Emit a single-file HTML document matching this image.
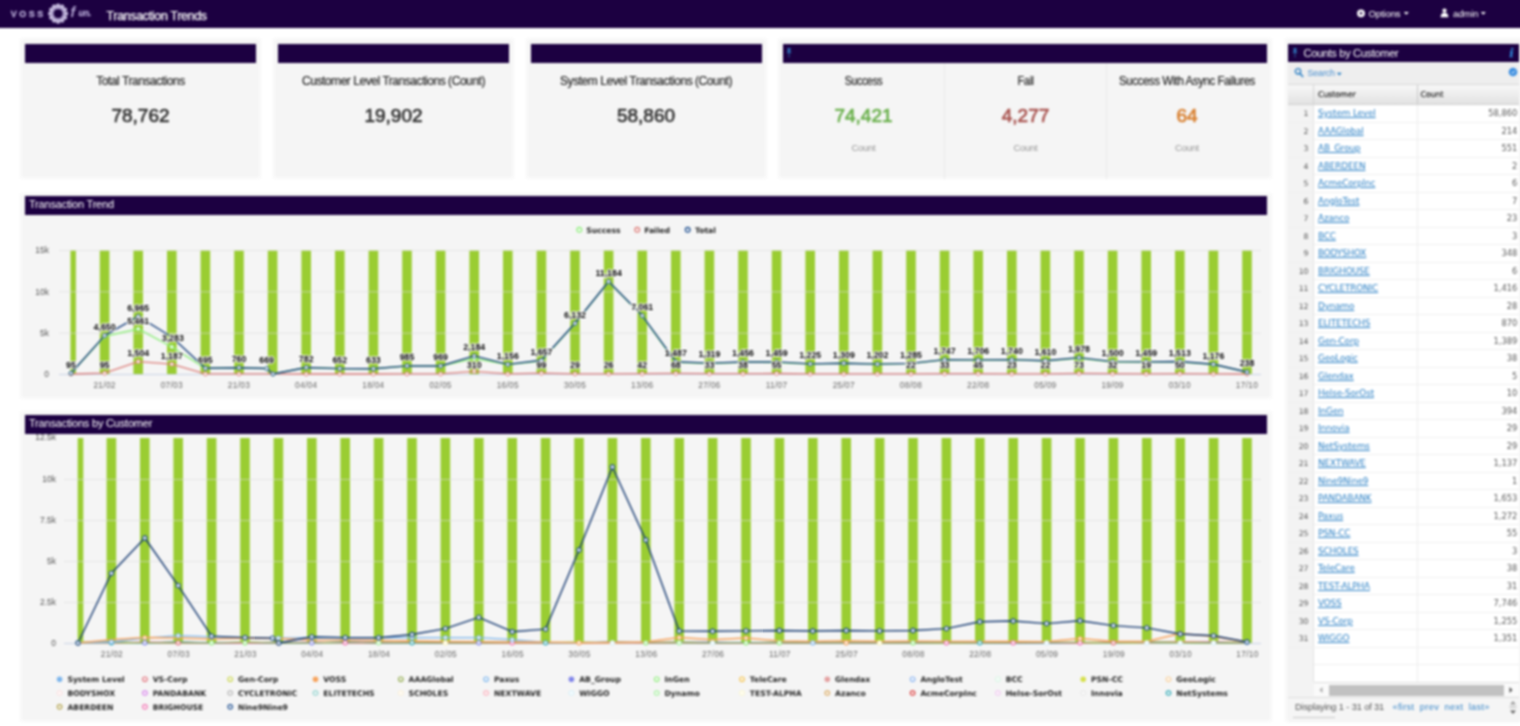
<!DOCTYPE html>
<html lang="en"><head><meta charset="utf-8"><title>Transaction Trends</title>
<style>
*{box-sizing:border-box;margin:0;padding:0}
html,body{width:1520px;height:726px;overflow:hidden;background:#fff}
body{position:relative;font-family:"Liberation Sans",sans-serif;color:#333}
.nav{position:absolute;left:0;top:0;width:1520px;height:27.5px;background:#1c0041}
.nav:before{content:'';position:absolute;left:-12px;top:-12px;width:1544px;height:39.5px;background:#1c0041}
#w{position:absolute;left:0;top:0;width:1520px;height:726px;filter:blur(0.8px)}
.nav .t{position:absolute;color:#fff;white-space:nowrap}
.panel{position:absolute;background:#f5f5f5;border-radius:4px;box-shadow:inset 0 0 0 2px #fafafa,0 0 1.5px rgba(0,0,0,.07)}
.hd{position:absolute;background:#1c0041;color:#fff;font-size:11px;line-height:19px;white-space:nowrap}
.lbl{position:absolute;text-align:center;font-size:12px;letter-spacing:-0.45px;color:#262626;white-space:nowrap;-webkit-text-stroke:0.2px #262626}
.val{position:absolute;text-align:center;font-size:19px;color:#333;white-space:nowrap;-webkit-text-stroke:0.65px currentColor}
.cnt{position:absolute;text-align:center;font-size:9.5px;color:#969696;white-space:nowrap;letter-spacing:-0.3px}
svg{position:absolute;left:0;top:0}
svg text{font-family:"Liberation Sans",sans-serif}
svg text.dv{font-family:"DejaVu Sans","Liberation Sans",sans-serif}
</style></head>
<body>
<div id="w">
<div class="nav">
<svg width="100" height="27" viewBox="0 0 100 27">
<text x="10.800" y="17" font-size="9" font-weight="bold" fill="#b2a5d0" stroke="#b2a5d0" stroke-width="0.35" letter-spacing="2.5">VOSS</text>
<circle cx="66.0" cy="13.6" r="2.2" fill="#c8bde0"/><circle cx="64.9" cy="17.6" r="2.2" fill="#c8bde0"/><circle cx="62.1" cy="20.4" r="2.2" fill="#c8bde0"/><circle cx="58.1" cy="21.5" r="2.2" fill="#c8bde0"/><circle cx="54.2" cy="20.4" r="2.2" fill="#c8bde0"/><circle cx="51.3" cy="17.6" r="2.2" fill="#c8bde0"/><circle cx="50.2" cy="13.6" r="2.2" fill="#c8bde0"/><circle cx="51.3" cy="9.7" r="2.2" fill="#c8bde0"/><circle cx="54.1" cy="6.8" r="2.2" fill="#c8bde0"/><circle cx="58.1" cy="5.7" r="2.2" fill="#c8bde0"/><circle cx="62.1" cy="6.8" r="2.2" fill="#c8bde0"/><circle cx="64.9" cy="9.6" r="2.2" fill="#c8bde0"/><circle cx="63.5" cy="15.0" r="1.3" fill="#b5a7d4"/><circle cx="62.1" cy="17.6" r="1.3" fill="#b5a7d4"/><circle cx="59.5" cy="19.0" r="1.3" fill="#b5a7d4"/><circle cx="56.7" cy="19.0" r="1.3" fill="#b5a7d4"/><circle cx="54.1" cy="17.6" r="1.3" fill="#b5a7d4"/><circle cx="52.7" cy="15.0" r="1.3" fill="#b5a7d4"/><circle cx="52.7" cy="12.2" r="1.3" fill="#b5a7d4"/><circle cx="54.1" cy="9.6" r="1.3" fill="#b5a7d4"/><circle cx="56.7" cy="8.2" r="1.3" fill="#b5a7d4"/><circle cx="59.5" cy="8.2" r="1.3" fill="#b5a7d4"/><circle cx="62.1" cy="9.6" r="1.3" fill="#b5a7d4"/><circle cx="63.5" cy="12.2" r="1.3" fill="#b5a7d4"/>
<text x="70.500" y="16.800" font-size="14" font-style="italic" font-weight="bold" fill="#b3a5d3" font-family="Liberation Serif,serif">f</text>
<text x="78.500" y="16.200" font-size="8.8" font-style="italic" font-weight="bold" stroke="#b3a5d3" stroke-width="0.3" fill="#b3a5d3" font-family="Liberation Sans,sans-serif" letter-spacing="-0.2">un.</text>
</svg>
<div class="t" style="left:106.5px;top:9px;font-size:12.4px;line-height:14px;letter-spacing:-0.3px;-webkit-text-stroke:0.25px #fff">Transaction Trends</div>
<svg style="left:1355px;top:7px" width="12" height="12" viewBox="0 0 12 12"><circle cx="6" cy="6.3" r="3.9" fill="#fff"/><circle cx="6" cy="6.3" r="1.2" fill="#1c0041"/></svg>
<div class="t" style="left:1368.5px;top:8px;font-size:9.6px;line-height:11px;letter-spacing:-0.15px">Options</div>
<svg style="left:1403px;top:11px" width="7" height="5" viewBox="0 0 7 5"><path d="M0.8 1h5l-2.5 2.8z" fill="#fff"/></svg>
<svg style="left:1439px;top:7px" width="11" height="12" viewBox="0 0 11 12"><circle cx="5.5" cy="3.6" r="2.1" fill="#fff"/><path d="M1.6 10.3c0-3.2 1.6-4.6 3.9-4.6s3.9 1.4 3.9 4.6z" fill="#fff"/></svg>
<div class="t" style="left:1453px;top:8px;font-size:9.6px;line-height:11px;letter-spacing:-0.15px">admin</div>
<svg style="left:1480px;top:11px" width="7" height="5" viewBox="0 0 7 5"><path d="M0.8 1h5l-2.5 2.8z" fill="#fff"/></svg>
</div>
<div class="panel" style="left:20px;top:38px;width:241px;height:141px">
<div class="hd" style="left:5px;top:6px;width:231px;height:18.5px"></div>
<div class="lbl" style="left:0;width:241px;top:35.5px;line-height:14px">Total Transactions</div>
<div class="val" style="left:0;width:241px;top:66px;line-height:24px">78,762</div>
</div>
<div class="panel" style="left:273px;top:38px;width:241px;height:141px">
<div class="hd" style="left:5px;top:6px;width:231px;height:18.5px"></div>
<div class="lbl" style="left:0;width:241px;top:35.5px;line-height:14px">Customer Level Transactions (Count)</div>
<div class="val" style="left:0;width:241px;top:66px;line-height:24px">19,902</div>
</div>
<div class="panel" style="left:525.5px;top:38px;width:241px;height:141px">
<div class="hd" style="left:5px;top:6px;width:231px;height:18.5px"></div>
<div class="lbl" style="left:0;width:241px;top:35.5px;line-height:14px">System Level Transactions (Count)</div>
<div class="val" style="left:0;width:241px;top:66px;line-height:24px">58,860</div>
</div>
<div class="panel" style="left:778px;top:38px;width:494px;height:141px">
<div class="hd" style="left:5px;top:6px;width:484px;height:18.5px"></div>
<svg style="left:8px;top:9px" width="6" height="12" viewBox="0 0 6 12"><path d="M1.3 1h3.4l-.5 3.3 1.3 1.6H3.4V10L3 11l-.4-1V5.9H.5l1.300-1.600z" fill="#2f6fb5"/></svg>
<div style="position:absolute;left:165.5px;top:25px;width:1px;height:116px;background:#e8e8e8"></div>
<div style="position:absolute;left:328px;top:25px;width:1px;height:116px;background:#e8e8e8"></div>
<div class="lbl" style="left:5px;width:161px;top:36px;line-height:14px;transform:scaleX(0.89)">Success</div>
<div class="val" style="left:5px;width:161px;top:66px;line-height:24px;color:#6ab04c;-webkit-text-stroke:0.7px #6ab04c">74,421</div>
<div class="cnt" style="left:5px;width:161px;top:103.5px;line-height:11px">Count</div>
<div class="lbl" style="left:167px;width:161px;top:36px;line-height:14px;transform:scaleX(0.91)">Fail</div>
<div class="val" style="left:167px;width:161px;top:66px;line-height:24px;color:#a8524e;-webkit-text-stroke:0.7px #a8524e">4,277</div>
<div class="cnt" style="left:167px;width:161px;top:103.5px;line-height:11px">Count</div>
<div class="lbl" style="left:329px;width:160px;top:36px;line-height:14px;transform:scaleX(0.957)">Success With Async Failures</div>
<div class="val" style="left:329px;width:160px;top:66px;line-height:24px;color:#d98233;-webkit-text-stroke:0.7px #d98233">64</div>
<div class="cnt" style="left:329px;width:160px;top:103.5px;line-height:11px">Count</div>
</div>
<div class="panel" style="left:20px;top:192.500px;width:1252px;height:206px"></div>
<div class="hd" style="left:25px;top:196.4px;width:1242px;height:19px;padding-left:4px;letter-spacing:-0.2px;line-height:17px">Transaction Trend</div>
<div class="panel" style="left:20px;top:410.5px;width:1252px;height:311.5px"></div>
<div class="hd" style="left:25px;top:415px;width:1242px;height:19px;padding-left:4px;letter-spacing:-0.2px;line-height:17px">Transactions by Customer</div>
<svg width="1520" height="726" viewBox="0 0 1520 726" style="pointer-events:none">
<rect x="70.5" y="250.3" width="5.4" height="123.7" fill="#9acd32"/>
<rect x="99.8" y="250.3" width="9.6" height="123.7" fill="#9acd32"/>
<rect x="133.4" y="250.3" width="9.6" height="123.7" fill="#9acd32"/>
<rect x="167.0" y="250.3" width="9.6" height="123.7" fill="#9acd32"/>
<rect x="200.6" y="250.3" width="9.6" height="123.7" fill="#9acd32"/>
<rect x="234.2" y="250.3" width="9.6" height="123.7" fill="#9acd32"/>
<rect x="267.8" y="250.3" width="9.6" height="123.7" fill="#9acd32"/>
<rect x="301.4" y="250.3" width="9.6" height="123.7" fill="#9acd32"/>
<rect x="335.0" y="250.3" width="9.6" height="123.7" fill="#9acd32"/>
<rect x="368.6" y="250.3" width="9.6" height="123.7" fill="#9acd32"/>
<rect x="402.2" y="250.3" width="9.6" height="123.7" fill="#9acd32"/>
<rect x="435.8" y="250.3" width="9.6" height="123.7" fill="#9acd32"/>
<rect x="469.4" y="250.3" width="9.6" height="123.7" fill="#9acd32"/>
<rect x="503.0" y="250.3" width="9.6" height="123.7" fill="#9acd32"/>
<rect x="536.6" y="250.3" width="9.6" height="123.7" fill="#9acd32"/>
<rect x="570.2" y="250.3" width="9.6" height="123.7" fill="#9acd32"/>
<rect x="603.8" y="250.3" width="9.6" height="123.7" fill="#9acd32"/>
<rect x="637.4" y="250.3" width="9.6" height="123.7" fill="#9acd32"/>
<rect x="671.0" y="250.3" width="9.6" height="123.7" fill="#9acd32"/>
<rect x="704.6" y="250.3" width="9.6" height="123.7" fill="#9acd32"/>
<rect x="738.2" y="250.3" width="9.6" height="123.7" fill="#9acd32"/>
<rect x="771.8" y="250.3" width="9.6" height="123.7" fill="#9acd32"/>
<rect x="805.4" y="250.3" width="9.6" height="123.7" fill="#9acd32"/>
<rect x="839.0" y="250.3" width="9.6" height="123.7" fill="#9acd32"/>
<rect x="872.6" y="250.3" width="9.6" height="123.7" fill="#9acd32"/>
<rect x="906.2" y="250.3" width="9.6" height="123.7" fill="#9acd32"/>
<rect x="939.8" y="250.3" width="9.6" height="123.7" fill="#9acd32"/>
<rect x="973.4" y="250.3" width="9.6" height="123.7" fill="#9acd32"/>
<rect x="1007.0" y="250.3" width="9.6" height="123.7" fill="#9acd32"/>
<rect x="1040.6" y="250.3" width="9.6" height="123.7" fill="#9acd32"/>
<rect x="1074.2" y="250.3" width="9.6" height="123.7" fill="#9acd32"/>
<rect x="1107.8" y="250.3" width="9.6" height="123.7" fill="#9acd32"/>
<rect x="1141.4" y="250.3" width="9.6" height="123.7" fill="#9acd32"/>
<rect x="1175.0" y="250.3" width="9.6" height="123.7" fill="#9acd32"/>
<rect x="1208.6" y="250.3" width="9.6" height="123.7" fill="#9acd32"/>
<rect x="1242.2" y="250.3" width="9.6" height="123.7" fill="#9acd32"/>
<line x1="59" x2="1261" y1="374.5" y2="374.5" stroke="#c9d3e6" stroke-width="1"/>
<line x1="59" x2="1261" y1="333.2" y2="333.2" stroke="#dcdcdc" stroke-opacity="0.65" stroke-width="1"/>
<line x1="59" x2="1261" y1="291.8" y2="291.8" stroke="#dcdcdc" stroke-opacity="0.65" stroke-width="1"/>
<line x1="59" x2="1261" y1="250.5" y2="250.5" stroke="#dcdcdc" stroke-opacity="0.65" stroke-width="1"/>
<text x="49" y="377.2" text-anchor="end" font-size="8.5" fill="#555">0</text>
<text x="49" y="335.9" text-anchor="end" font-size="8.5" fill="#555">5k</text>
<text x="49" y="294.5" text-anchor="end" font-size="8.5" fill="#555">10k</text>
<text x="49" y="253.2" text-anchor="end" font-size="8.5" fill="#555">15k</text>
<text x="104.6" y="387.800" text-anchor="middle" font-size="8.3" fill="#666" letter-spacing="0.3">21/02</text>
<text x="171.8" y="387.800" text-anchor="middle" font-size="8.3" fill="#666" letter-spacing="0.3">07/03</text>
<text x="239.0" y="387.800" text-anchor="middle" font-size="8.3" fill="#666" letter-spacing="0.3">21/03</text>
<text x="306.2" y="387.800" text-anchor="middle" font-size="8.3" fill="#666" letter-spacing="0.3">04/04</text>
<text x="373.4" y="387.800" text-anchor="middle" font-size="8.3" fill="#666" letter-spacing="0.3">18/04</text>
<text x="440.6" y="387.800" text-anchor="middle" font-size="8.3" fill="#666" letter-spacing="0.3">02/05</text>
<text x="507.8" y="387.800" text-anchor="middle" font-size="8.3" fill="#666" letter-spacing="0.3">16/05</text>
<text x="575.0" y="387.800" text-anchor="middle" font-size="8.3" fill="#666" letter-spacing="0.3">30/05</text>
<text x="642.2" y="387.800" text-anchor="middle" font-size="8.3" fill="#666" letter-spacing="0.3">13/06</text>
<text x="709.4" y="387.800" text-anchor="middle" font-size="8.3" fill="#666" letter-spacing="0.3">27/06</text>
<text x="776.6" y="387.800" text-anchor="middle" font-size="8.3" fill="#666" letter-spacing="0.3">11/07</text>
<text x="843.8" y="387.800" text-anchor="middle" font-size="8.3" fill="#666" letter-spacing="0.3">25/07</text>
<text x="911.0" y="387.800" text-anchor="middle" font-size="8.3" fill="#666" letter-spacing="0.3">08/08</text>
<text x="978.2" y="387.800" text-anchor="middle" font-size="8.3" fill="#666" letter-spacing="0.3">22/08</text>
<text x="1045.4" y="387.800" text-anchor="middle" font-size="8.3" fill="#666" letter-spacing="0.3">05/09</text>
<text x="1112.6" y="387.800" text-anchor="middle" font-size="8.3" fill="#666" letter-spacing="0.3">19/09</text>
<text x="1179.8" y="387.800" text-anchor="middle" font-size="8.3" fill="#666" letter-spacing="0.3">03/10</text>
<text x="1247.0" y="387.800" text-anchor="middle" font-size="8.3" fill="#666" letter-spacing="0.3">17/10</text>
<polyline fill="none" stroke="#dc7e7a" stroke-width="1.3" stroke-linejoin="round" points="71.0,374.0 104.6,373.2 138.2,361.6 171.8,364.2 205.4,373.9 239.0,373.9 272.6,373.9 306.2,374.0 339.8,374.0 373.4,374.0 407.0,373.9 440.6,373.9 474.2,371.4 507.8,373.9 541.4,373.2 575.0,373.8 608.6,373.8 642.2,373.7 675.8,373.4 709.4,373.7 743.0,373.7 776.6,373.5 810.2,373.9 843.8,373.9 877.4,373.9 911.0,373.8 944.6,373.7 978.2,373.6 1011.8,373.8 1045.4,373.8 1079.0,373.4 1112.6,373.7 1146.2,373.8 1179.8,373.6 1213.4,373.9 1247.0,374.0"/>
<polyline fill="none" stroke="#90ed7d" stroke-width="1.5" stroke-linejoin="round" points="71.0,373.2 104.6,336.3 138.2,328.9 171.8,346.9 205.4,368.3 239.0,367.8 266.8,368.6 273.0,374.0 306.2,367.6 339.8,368.7 373.4,368.8 407.0,365.9 440.6,366.1 474.2,358.5 507.8,364.5 541.4,361.1 575.0,323.5 608.6,281.8 642.2,316.0 675.8,362.3 709.4,363.4 743.0,362.3 776.6,362.4 810.2,364.0 843.8,363.3 877.4,364.1 911.0,363.6 944.6,359.8 978.2,360.3 1011.8,359.8 1045.4,360.9 1079.0,358.3 1112.6,361.9 1146.2,362.1 1179.8,361.9 1213.4,364.4 1247.0,372.0"/>
<polyline fill="none" stroke="#163f7c" stroke-width="1.4" stroke-linejoin="round" points="71.0,373.2 104.6,335.6 138.2,316.4 171.8,337.0 205.4,368.3 239.0,367.7 266.8,368.5 273.0,374.0 306.2,367.5 339.8,368.6 373.4,368.8 407.0,365.9 440.6,366.0 474.2,355.9 507.8,364.4 541.4,360.3 575.0,323.3 608.6,281.5 642.2,315.6 675.8,361.7 709.4,363.1 743.0,362.0 776.6,361.9 810.2,363.9 843.8,363.2 877.4,364.1 911.0,363.4 944.6,359.6 978.2,359.9 1011.8,359.6 1045.4,360.7 1079.0,357.6 1112.6,361.6 1146.2,361.9 1179.8,361.5 1213.4,364.3 1247.0,372.0"/>
<circle cx="71.0" cy="374.0" r="1.9" fill="#fff" stroke="#dc7e7a" stroke-width="1.0"/>
<circle cx="104.6" cy="373.2" r="1.9" fill="#fff" stroke="#dc7e7a" stroke-width="1.0"/>
<circle cx="138.2" cy="361.6" r="1.9" fill="#fff" stroke="#dc7e7a" stroke-width="1.0"/>
<circle cx="171.8" cy="364.2" r="1.9" fill="#fff" stroke="#dc7e7a" stroke-width="1.0"/>
<circle cx="205.4" cy="373.9" r="1.9" fill="#fff" stroke="#dc7e7a" stroke-width="1.0"/>
<circle cx="239.0" cy="373.9" r="1.9" fill="#fff" stroke="#dc7e7a" stroke-width="1.0"/>
<circle cx="272.6" cy="373.9" r="1.9" fill="#fff" stroke="#dc7e7a" stroke-width="1.0"/>
<circle cx="306.2" cy="374.0" r="1.9" fill="#fff" stroke="#dc7e7a" stroke-width="1.0"/>
<circle cx="339.8" cy="374.0" r="1.9" fill="#fff" stroke="#dc7e7a" stroke-width="1.0"/>
<circle cx="373.4" cy="374.0" r="1.9" fill="#fff" stroke="#dc7e7a" stroke-width="1.0"/>
<circle cx="407.0" cy="373.9" r="1.9" fill="#fff" stroke="#dc7e7a" stroke-width="1.0"/>
<circle cx="440.6" cy="373.9" r="1.9" fill="#fff" stroke="#dc7e7a" stroke-width="1.0"/>
<circle cx="474.2" cy="371.4" r="1.9" fill="#fff" stroke="#dc7e7a" stroke-width="1.0"/>
<circle cx="507.8" cy="373.9" r="1.9" fill="#fff" stroke="#dc7e7a" stroke-width="1.0"/>
<circle cx="541.4" cy="373.2" r="1.9" fill="#fff" stroke="#dc7e7a" stroke-width="1.0"/>
<circle cx="575.0" cy="373.8" r="1.9" fill="#fff" stroke="#dc7e7a" stroke-width="1.0"/>
<circle cx="608.6" cy="373.8" r="1.9" fill="#fff" stroke="#dc7e7a" stroke-width="1.0"/>
<circle cx="642.2" cy="373.7" r="1.9" fill="#fff" stroke="#dc7e7a" stroke-width="1.0"/>
<circle cx="675.8" cy="373.4" r="1.9" fill="#fff" stroke="#dc7e7a" stroke-width="1.0"/>
<circle cx="709.4" cy="373.7" r="1.9" fill="#fff" stroke="#dc7e7a" stroke-width="1.0"/>
<circle cx="743.0" cy="373.7" r="1.9" fill="#fff" stroke="#dc7e7a" stroke-width="1.0"/>
<circle cx="776.6" cy="373.5" r="1.9" fill="#fff" stroke="#dc7e7a" stroke-width="1.0"/>
<circle cx="810.2" cy="373.9" r="1.9" fill="#fff" stroke="#dc7e7a" stroke-width="1.0"/>
<circle cx="843.8" cy="373.9" r="1.9" fill="#fff" stroke="#dc7e7a" stroke-width="1.0"/>
<circle cx="877.4" cy="373.9" r="1.9" fill="#fff" stroke="#dc7e7a" stroke-width="1.0"/>
<circle cx="911.0" cy="373.8" r="1.9" fill="#fff" stroke="#dc7e7a" stroke-width="1.0"/>
<circle cx="944.6" cy="373.7" r="1.9" fill="#fff" stroke="#dc7e7a" stroke-width="1.0"/>
<circle cx="978.2" cy="373.6" r="1.9" fill="#fff" stroke="#dc7e7a" stroke-width="1.0"/>
<circle cx="1011.8" cy="373.8" r="1.9" fill="#fff" stroke="#dc7e7a" stroke-width="1.0"/>
<circle cx="1045.4" cy="373.8" r="1.9" fill="#fff" stroke="#dc7e7a" stroke-width="1.0"/>
<circle cx="1079.0" cy="373.4" r="1.9" fill="#fff" stroke="#dc7e7a" stroke-width="1.0"/>
<circle cx="1112.6" cy="373.7" r="1.9" fill="#fff" stroke="#dc7e7a" stroke-width="1.0"/>
<circle cx="1146.2" cy="373.8" r="1.9" fill="#fff" stroke="#dc7e7a" stroke-width="1.0"/>
<circle cx="1179.8" cy="373.6" r="1.9" fill="#fff" stroke="#dc7e7a" stroke-width="1.0"/>
<circle cx="1213.4" cy="373.9" r="1.9" fill="#fff" stroke="#dc7e7a" stroke-width="1.0"/>
<circle cx="1247.0" cy="374.0" r="1.9" fill="#fff" stroke="#dc7e7a" stroke-width="1.0"/>
<circle cx="71.0" cy="373.2" r="1.9" fill="#fff" stroke="#90ed7d" stroke-width="1.0"/>
<circle cx="104.6" cy="336.3" r="1.9" fill="#fff" stroke="#90ed7d" stroke-width="1.0"/>
<circle cx="138.2" cy="328.9" r="1.9" fill="#fff" stroke="#90ed7d" stroke-width="1.0"/>
<circle cx="171.8" cy="346.9" r="1.9" fill="#fff" stroke="#90ed7d" stroke-width="1.0"/>
<circle cx="205.4" cy="368.3" r="1.9" fill="#fff" stroke="#90ed7d" stroke-width="1.0"/>
<circle cx="239.0" cy="367.8" r="1.9" fill="#fff" stroke="#90ed7d" stroke-width="1.0"/>
<circle cx="266.8" cy="368.6" r="1.9" fill="#fff" stroke="#90ed7d" stroke-width="1.0"/>
<circle cx="273.0" cy="374.0" r="1.9" fill="#fff" stroke="#90ed7d" stroke-width="1.0"/>
<circle cx="306.2" cy="367.6" r="1.9" fill="#fff" stroke="#90ed7d" stroke-width="1.0"/>
<circle cx="339.8" cy="368.7" r="1.9" fill="#fff" stroke="#90ed7d" stroke-width="1.0"/>
<circle cx="373.4" cy="368.8" r="1.9" fill="#fff" stroke="#90ed7d" stroke-width="1.0"/>
<circle cx="407.0" cy="365.9" r="1.9" fill="#fff" stroke="#90ed7d" stroke-width="1.0"/>
<circle cx="440.6" cy="366.1" r="1.9" fill="#fff" stroke="#90ed7d" stroke-width="1.0"/>
<circle cx="474.2" cy="358.5" r="1.9" fill="#fff" stroke="#90ed7d" stroke-width="1.0"/>
<circle cx="507.8" cy="364.5" r="1.9" fill="#fff" stroke="#90ed7d" stroke-width="1.0"/>
<circle cx="541.4" cy="361.1" r="1.9" fill="#fff" stroke="#90ed7d" stroke-width="1.0"/>
<circle cx="575.0" cy="323.5" r="1.9" fill="#fff" stroke="#90ed7d" stroke-width="1.0"/>
<circle cx="608.6" cy="281.8" r="1.9" fill="#fff" stroke="#90ed7d" stroke-width="1.0"/>
<circle cx="642.2" cy="316.0" r="1.9" fill="#fff" stroke="#90ed7d" stroke-width="1.0"/>
<circle cx="675.8" cy="362.3" r="1.9" fill="#fff" stroke="#90ed7d" stroke-width="1.0"/>
<circle cx="709.4" cy="363.4" r="1.9" fill="#fff" stroke="#90ed7d" stroke-width="1.0"/>
<circle cx="743.0" cy="362.3" r="1.9" fill="#fff" stroke="#90ed7d" stroke-width="1.0"/>
<circle cx="776.6" cy="362.4" r="1.9" fill="#fff" stroke="#90ed7d" stroke-width="1.0"/>
<circle cx="810.2" cy="364.0" r="1.9" fill="#fff" stroke="#90ed7d" stroke-width="1.0"/>
<circle cx="843.8" cy="363.3" r="1.9" fill="#fff" stroke="#90ed7d" stroke-width="1.0"/>
<circle cx="877.4" cy="364.1" r="1.9" fill="#fff" stroke="#90ed7d" stroke-width="1.0"/>
<circle cx="911.0" cy="363.6" r="1.9" fill="#fff" stroke="#90ed7d" stroke-width="1.0"/>
<circle cx="944.6" cy="359.8" r="1.9" fill="#fff" stroke="#90ed7d" stroke-width="1.0"/>
<circle cx="978.2" cy="360.3" r="1.9" fill="#fff" stroke="#90ed7d" stroke-width="1.0"/>
<circle cx="1011.8" cy="359.8" r="1.9" fill="#fff" stroke="#90ed7d" stroke-width="1.0"/>
<circle cx="1045.4" cy="360.9" r="1.9" fill="#fff" stroke="#90ed7d" stroke-width="1.0"/>
<circle cx="1079.0" cy="358.3" r="1.9" fill="#fff" stroke="#90ed7d" stroke-width="1.0"/>
<circle cx="1112.6" cy="361.9" r="1.9" fill="#fff" stroke="#90ed7d" stroke-width="1.0"/>
<circle cx="1146.2" cy="362.1" r="1.9" fill="#fff" stroke="#90ed7d" stroke-width="1.0"/>
<circle cx="1179.8" cy="361.9" r="1.9" fill="#fff" stroke="#90ed7d" stroke-width="1.0"/>
<circle cx="1213.4" cy="364.4" r="1.9" fill="#fff" stroke="#90ed7d" stroke-width="1.0"/>
<circle cx="1247.0" cy="372.0" r="1.9" fill="#fff" stroke="#90ed7d" stroke-width="1.0"/>
<circle cx="71.0" cy="373.2" r="1.9" fill="#fff" stroke="#1f4f8f" stroke-width="1.0"/>
<circle cx="104.6" cy="335.6" r="1.9" fill="#fff" stroke="#1f4f8f" stroke-width="1.0"/>
<circle cx="138.2" cy="316.4" r="1.9" fill="#fff" stroke="#1f4f8f" stroke-width="1.0"/>
<circle cx="171.8" cy="337.0" r="1.9" fill="#fff" stroke="#1f4f8f" stroke-width="1.0"/>
<circle cx="205.4" cy="368.3" r="1.9" fill="#fff" stroke="#1f4f8f" stroke-width="1.0"/>
<circle cx="239.0" cy="367.7" r="1.9" fill="#fff" stroke="#1f4f8f" stroke-width="1.0"/>
<circle cx="266.8" cy="368.5" r="1.9" fill="#fff" stroke="#1f4f8f" stroke-width="1.0"/>
<circle cx="273.0" cy="374.0" r="1.9" fill="#fff" stroke="#1f4f8f" stroke-width="1.0"/>
<circle cx="306.2" cy="367.5" r="1.9" fill="#fff" stroke="#1f4f8f" stroke-width="1.0"/>
<circle cx="339.8" cy="368.6" r="1.9" fill="#fff" stroke="#1f4f8f" stroke-width="1.0"/>
<circle cx="373.4" cy="368.8" r="1.9" fill="#fff" stroke="#1f4f8f" stroke-width="1.0"/>
<circle cx="407.0" cy="365.9" r="1.9" fill="#fff" stroke="#1f4f8f" stroke-width="1.0"/>
<circle cx="440.6" cy="366.0" r="1.9" fill="#fff" stroke="#1f4f8f" stroke-width="1.0"/>
<circle cx="474.2" cy="355.9" r="1.9" fill="#fff" stroke="#1f4f8f" stroke-width="1.0"/>
<circle cx="507.8" cy="364.4" r="1.9" fill="#fff" stroke="#1f4f8f" stroke-width="1.0"/>
<circle cx="541.4" cy="360.3" r="1.9" fill="#fff" stroke="#1f4f8f" stroke-width="1.0"/>
<circle cx="575.0" cy="323.3" r="1.9" fill="#fff" stroke="#1f4f8f" stroke-width="1.0"/>
<circle cx="608.6" cy="281.5" r="1.9" fill="#fff" stroke="#1f4f8f" stroke-width="1.0"/>
<circle cx="642.2" cy="315.6" r="1.9" fill="#fff" stroke="#1f4f8f" stroke-width="1.0"/>
<circle cx="675.8" cy="361.7" r="1.9" fill="#fff" stroke="#1f4f8f" stroke-width="1.0"/>
<circle cx="709.4" cy="363.1" r="1.9" fill="#fff" stroke="#1f4f8f" stroke-width="1.0"/>
<circle cx="743.0" cy="362.0" r="1.9" fill="#fff" stroke="#1f4f8f" stroke-width="1.0"/>
<circle cx="776.6" cy="361.9" r="1.9" fill="#fff" stroke="#1f4f8f" stroke-width="1.0"/>
<circle cx="810.2" cy="363.9" r="1.9" fill="#fff" stroke="#1f4f8f" stroke-width="1.0"/>
<circle cx="843.8" cy="363.2" r="1.9" fill="#fff" stroke="#1f4f8f" stroke-width="1.0"/>
<circle cx="877.4" cy="364.1" r="1.9" fill="#fff" stroke="#1f4f8f" stroke-width="1.0"/>
<circle cx="911.0" cy="363.4" r="1.9" fill="#fff" stroke="#1f4f8f" stroke-width="1.0"/>
<circle cx="944.6" cy="359.6" r="1.9" fill="#fff" stroke="#1f4f8f" stroke-width="1.0"/>
<circle cx="978.2" cy="359.9" r="1.9" fill="#fff" stroke="#1f4f8f" stroke-width="1.0"/>
<circle cx="1011.8" cy="359.6" r="1.9" fill="#fff" stroke="#1f4f8f" stroke-width="1.0"/>
<circle cx="1045.4" cy="360.7" r="1.9" fill="#fff" stroke="#1f4f8f" stroke-width="1.0"/>
<circle cx="1079.0" cy="357.6" r="1.9" fill="#fff" stroke="#1f4f8f" stroke-width="1.0"/>
<circle cx="1112.6" cy="361.6" r="1.9" fill="#fff" stroke="#1f4f8f" stroke-width="1.0"/>
<circle cx="1146.2" cy="361.9" r="1.9" fill="#fff" stroke="#1f4f8f" stroke-width="1.0"/>
<circle cx="1179.8" cy="361.5" r="1.9" fill="#fff" stroke="#1f4f8f" stroke-width="1.0"/>
<circle cx="1213.4" cy="364.3" r="1.9" fill="#fff" stroke="#1f4f8f" stroke-width="1.0"/>
<circle cx="1247.0" cy="372.0" r="1.9" fill="#fff" stroke="#1f4f8f" stroke-width="1.0"/>
<text x="71.0" y="367.5" text-anchor="middle" font-size="8.8" font-weight="bold" fill="#000" stroke="#fff" stroke-width="2" stroke-linejoin="round" paint-order="stroke">95</text>
<text x="104.6" y="329.9" text-anchor="middle" font-size="8.8" font-weight="bold" fill="#000" stroke="#fff" stroke-width="2" stroke-linejoin="round" paint-order="stroke">4,650</text>
<text x="138.2" y="310.7" text-anchor="middle" font-size="8.8" font-weight="bold" fill="#000" stroke="#fff" stroke-width="2" stroke-linejoin="round" paint-order="stroke">6,965</text>
<text x="205.4" y="362.6" text-anchor="middle" font-size="8.8" font-weight="bold" fill="#000" stroke="#fff" stroke-width="2" stroke-linejoin="round" paint-order="stroke">695</text>
<text x="239.0" y="362.0" text-anchor="middle" font-size="8.8" font-weight="bold" fill="#000" stroke="#fff" stroke-width="2" stroke-linejoin="round" paint-order="stroke">760</text>
<text x="266.6" y="362.8" text-anchor="middle" font-size="8.8" font-weight="bold" fill="#000" stroke="#fff" stroke-width="2" stroke-linejoin="round" paint-order="stroke">669</text>
<text x="306.2" y="361.8" text-anchor="middle" font-size="8.8" font-weight="bold" fill="#000" stroke="#fff" stroke-width="2" stroke-linejoin="round" paint-order="stroke">782</text>
<text x="339.8" y="362.9" text-anchor="middle" font-size="8.8" font-weight="bold" fill="#000" stroke="#fff" stroke-width="2" stroke-linejoin="round" paint-order="stroke">652</text>
<text x="373.4" y="363.1" text-anchor="middle" font-size="8.8" font-weight="bold" fill="#000" stroke="#fff" stroke-width="2" stroke-linejoin="round" paint-order="stroke">633</text>
<text x="407.0" y="360.2" text-anchor="middle" font-size="8.8" font-weight="bold" fill="#000" stroke="#fff" stroke-width="2" stroke-linejoin="round" paint-order="stroke">985</text>
<text x="440.6" y="360.3" text-anchor="middle" font-size="8.8" font-weight="bold" fill="#000" stroke="#fff" stroke-width="2" stroke-linejoin="round" paint-order="stroke">969</text>
<text x="474.2" y="350.2" text-anchor="middle" font-size="8.8" font-weight="bold" fill="#000" stroke="#fff" stroke-width="2" stroke-linejoin="round" paint-order="stroke">2,184</text>
<text x="507.8" y="358.7" text-anchor="middle" font-size="8.8" font-weight="bold" fill="#000" stroke="#fff" stroke-width="2" stroke-linejoin="round" paint-order="stroke">1,156</text>
<text x="541.4" y="354.6" text-anchor="middle" font-size="8.8" font-weight="bold" fill="#000" stroke="#fff" stroke-width="2" stroke-linejoin="round" paint-order="stroke">1,657</text>
<text x="575.0" y="317.6" text-anchor="middle" font-size="8.8" font-weight="bold" fill="#000" stroke="#fff" stroke-width="2" stroke-linejoin="round" paint-order="stroke">6,132</text>
<text x="608.6" y="275.8" text-anchor="middle" font-size="8.8" font-weight="bold" fill="#000" stroke="#fff" stroke-width="2" stroke-linejoin="round" paint-order="stroke">11,184</text>
<text x="642.2" y="309.9" text-anchor="middle" font-size="8.8" font-weight="bold" fill="#000" stroke="#fff" stroke-width="2" stroke-linejoin="round" paint-order="stroke">7,061</text>
<text x="675.8" y="356.0" text-anchor="middle" font-size="8.8" font-weight="bold" fill="#000" stroke="#fff" stroke-width="2" stroke-linejoin="round" paint-order="stroke">1,487</text>
<text x="709.4" y="357.4" text-anchor="middle" font-size="8.8" font-weight="bold" fill="#000" stroke="#fff" stroke-width="2" stroke-linejoin="round" paint-order="stroke">1,319</text>
<text x="743.0" y="356.3" text-anchor="middle" font-size="8.8" font-weight="bold" fill="#000" stroke="#fff" stroke-width="2" stroke-linejoin="round" paint-order="stroke">1,456</text>
<text x="776.6" y="356.2" text-anchor="middle" font-size="8.8" font-weight="bold" fill="#000" stroke="#fff" stroke-width="2" stroke-linejoin="round" paint-order="stroke">1,459</text>
<text x="810.2" y="358.2" text-anchor="middle" font-size="8.8" font-weight="bold" fill="#000" stroke="#fff" stroke-width="2" stroke-linejoin="round" paint-order="stroke">1,225</text>
<text x="843.8" y="357.5" text-anchor="middle" font-size="8.8" font-weight="bold" fill="#000" stroke="#fff" stroke-width="2" stroke-linejoin="round" paint-order="stroke">1,309</text>
<text x="877.4" y="358.4" text-anchor="middle" font-size="8.8" font-weight="bold" fill="#000" stroke="#fff" stroke-width="2" stroke-linejoin="round" paint-order="stroke">1,202</text>
<text x="911.0" y="357.7" text-anchor="middle" font-size="8.8" font-weight="bold" fill="#000" stroke="#fff" stroke-width="2" stroke-linejoin="round" paint-order="stroke">1,285</text>
<text x="944.6" y="353.9" text-anchor="middle" font-size="8.8" font-weight="bold" fill="#000" stroke="#fff" stroke-width="2" stroke-linejoin="round" paint-order="stroke">1,747</text>
<text x="978.2" y="354.2" text-anchor="middle" font-size="8.8" font-weight="bold" fill="#000" stroke="#fff" stroke-width="2" stroke-linejoin="round" paint-order="stroke">1,706</text>
<text x="1011.8" y="353.9" text-anchor="middle" font-size="8.8" font-weight="bold" fill="#000" stroke="#fff" stroke-width="2" stroke-linejoin="round" paint-order="stroke">1,740</text>
<text x="1045.4" y="355.0" text-anchor="middle" font-size="8.8" font-weight="bold" fill="#000" stroke="#fff" stroke-width="2" stroke-linejoin="round" paint-order="stroke">1,610</text>
<text x="1079.0" y="351.9" text-anchor="middle" font-size="8.8" font-weight="bold" fill="#000" stroke="#fff" stroke-width="2" stroke-linejoin="round" paint-order="stroke">1,978</text>
<text x="1112.6" y="355.9" text-anchor="middle" font-size="8.8" font-weight="bold" fill="#000" stroke="#fff" stroke-width="2" stroke-linejoin="round" paint-order="stroke">1,500</text>
<text x="1146.2" y="356.2" text-anchor="middle" font-size="8.8" font-weight="bold" fill="#000" stroke="#fff" stroke-width="2" stroke-linejoin="round" paint-order="stroke">1,459</text>
<text x="1179.8" y="355.8" text-anchor="middle" font-size="8.8" font-weight="bold" fill="#000" stroke="#fff" stroke-width="2" stroke-linejoin="round" paint-order="stroke">1,513</text>
<text x="1213.4" y="358.6" text-anchor="middle" font-size="8.8" font-weight="bold" fill="#000" stroke="#fff" stroke-width="2" stroke-linejoin="round" paint-order="stroke">1,176</text>
<text x="1247.0" y="366.3" text-anchor="middle" font-size="8.8" font-weight="bold" fill="#000" stroke="#fff" stroke-width="2" stroke-linejoin="round" paint-order="stroke">238</text>
<text x="138.2" y="323.7" text-anchor="middle" font-size="8.8" font-weight="bold" fill="#000" stroke="#fff" stroke-width="2" stroke-linejoin="round" paint-order="stroke">5,461</text>
<text x="172.8" y="341.2" text-anchor="middle" font-size="8.8" font-weight="bold" fill="#000" stroke="#fff" stroke-width="2" stroke-linejoin="round" paint-order="stroke">3,283</text>
<text x="104.6" y="367.6" text-anchor="middle" font-size="8.8" font-weight="bold" fill="#000" stroke="#fff" stroke-width="2" stroke-linejoin="round" paint-order="stroke">95</text>
<text x="138.2" y="355.9" text-anchor="middle" font-size="8.8" font-weight="bold" fill="#000" stroke="#fff" stroke-width="2" stroke-linejoin="round" paint-order="stroke">1,504</text>
<text x="171.8" y="358.5" text-anchor="middle" font-size="8.8" font-weight="bold" fill="#000" stroke="#fff" stroke-width="2" stroke-linejoin="round" paint-order="stroke">1,187</text>
<text x="474.2" y="367.6" text-anchor="middle" font-size="8.8" font-weight="bold" fill="#000" stroke="#fff" stroke-width="2" stroke-linejoin="round" paint-order="stroke">310</text>
<text x="541.4" y="367.6" text-anchor="middle" font-size="8.8" font-weight="bold" fill="#000" stroke="#fff" stroke-width="2" stroke-linejoin="round" paint-order="stroke">99</text>
<text x="575.0" y="367.6" text-anchor="middle" font-size="8.8" font-weight="bold" fill="#000" stroke="#fff" stroke-width="2" stroke-linejoin="round" paint-order="stroke">29</text>
<text x="608.6" y="367.6" text-anchor="middle" font-size="8.8" font-weight="bold" fill="#000" stroke="#fff" stroke-width="2" stroke-linejoin="round" paint-order="stroke">26</text>
<text x="642.2" y="367.6" text-anchor="middle" font-size="8.8" font-weight="bold" fill="#000" stroke="#fff" stroke-width="2" stroke-linejoin="round" paint-order="stroke">42</text>
<text x="675.8" y="367.6" text-anchor="middle" font-size="8.8" font-weight="bold" fill="#000" stroke="#fff" stroke-width="2" stroke-linejoin="round" paint-order="stroke">68</text>
<text x="709.4" y="367.6" text-anchor="middle" font-size="8.8" font-weight="bold" fill="#000" stroke="#fff" stroke-width="2" stroke-linejoin="round" paint-order="stroke">33</text>
<text x="743.0" y="367.6" text-anchor="middle" font-size="8.8" font-weight="bold" fill="#000" stroke="#fff" stroke-width="2" stroke-linejoin="round" paint-order="stroke">38</text>
<text x="776.6" y="367.6" text-anchor="middle" font-size="8.8" font-weight="bold" fill="#000" stroke="#fff" stroke-width="2" stroke-linejoin="round" paint-order="stroke">55</text>
<text x="911.0" y="367.6" text-anchor="middle" font-size="8.8" font-weight="bold" fill="#000" stroke="#fff" stroke-width="2" stroke-linejoin="round" paint-order="stroke">22</text>
<text x="944.6" y="367.6" text-anchor="middle" font-size="8.8" font-weight="bold" fill="#000" stroke="#fff" stroke-width="2" stroke-linejoin="round" paint-order="stroke">33</text>
<text x="978.2" y="367.6" text-anchor="middle" font-size="8.8" font-weight="bold" fill="#000" stroke="#fff" stroke-width="2" stroke-linejoin="round" paint-order="stroke">45</text>
<text x="1011.8" y="367.6" text-anchor="middle" font-size="8.8" font-weight="bold" fill="#000" stroke="#fff" stroke-width="2" stroke-linejoin="round" paint-order="stroke">23</text>
<text x="1045.4" y="367.6" text-anchor="middle" font-size="8.8" font-weight="bold" fill="#000" stroke="#fff" stroke-width="2" stroke-linejoin="round" paint-order="stroke">22</text>
<text x="1079.0" y="367.6" text-anchor="middle" font-size="8.8" font-weight="bold" fill="#000" stroke="#fff" stroke-width="2" stroke-linejoin="round" paint-order="stroke">73</text>
<text x="1112.6" y="367.6" text-anchor="middle" font-size="8.8" font-weight="bold" fill="#000" stroke="#fff" stroke-width="2" stroke-linejoin="round" paint-order="stroke">32</text>
<text x="1146.2" y="367.6" text-anchor="middle" font-size="8.8" font-weight="bold" fill="#000" stroke="#fff" stroke-width="2" stroke-linejoin="round" paint-order="stroke">19</text>
<text x="1179.8" y="367.6" text-anchor="middle" font-size="8.8" font-weight="bold" fill="#000" stroke="#fff" stroke-width="2" stroke-linejoin="round" paint-order="stroke">50</text>
<circle cx="579.3" cy="229.8" r="2.3" fill="#fff" stroke="#90ed7d" stroke-width="1.3"/>
<text x="586.3" y="232.800" font-size="7.65" font-weight="bold" fill="#262626" class="dv">Success</text>
<circle cx="637.2" cy="229.8" r="2.3" fill="#fff" stroke="#dc7e7a" stroke-width="1.3"/>
<text x="644.2" y="232.800" font-size="7.65" font-weight="bold" fill="#262626" class="dv">Failed</text>
<circle cx="687.7" cy="229.8" r="2.3" fill="#fff" stroke="#1f4f8f" stroke-width="1.3"/>
<text x="695.0" y="232.800" font-size="7.65" font-weight="bold" fill="#262626" class="dv">Total</text>
</svg>
<svg width="1520" height="726" viewBox="0 0 1520 726" style="pointer-events:none">
<rect x="77.7" y="438.0" width="5.6" height="205.0" fill="#9acd32"/>
<rect x="106.6" y="438.0" width="9.6" height="205.0" fill="#9acd32"/>
<rect x="140.0" y="438.0" width="9.6" height="205.0" fill="#9acd32"/>
<rect x="173.4" y="438.0" width="9.6" height="205.0" fill="#9acd32"/>
<rect x="206.8" y="438.0" width="9.6" height="205.0" fill="#9acd32"/>
<rect x="240.2" y="438.0" width="9.6" height="205.0" fill="#9acd32"/>
<rect x="273.6" y="438.0" width="9.6" height="205.0" fill="#9acd32"/>
<rect x="307.0" y="438.0" width="9.6" height="205.0" fill="#9acd32"/>
<rect x="340.4" y="438.0" width="9.6" height="205.0" fill="#9acd32"/>
<rect x="373.8" y="438.0" width="9.6" height="205.0" fill="#9acd32"/>
<rect x="407.2" y="438.0" width="9.6" height="205.0" fill="#9acd32"/>
<rect x="440.6" y="438.0" width="9.6" height="205.0" fill="#9acd32"/>
<rect x="474.0" y="438.0" width="9.6" height="205.0" fill="#9acd32"/>
<rect x="507.4" y="438.0" width="9.6" height="205.0" fill="#9acd32"/>
<rect x="540.8" y="438.0" width="9.6" height="205.0" fill="#9acd32"/>
<rect x="574.2" y="438.0" width="9.6" height="205.0" fill="#9acd32"/>
<rect x="607.6" y="438.0" width="9.6" height="205.0" fill="#9acd32"/>
<rect x="641.0" y="438.0" width="9.6" height="205.0" fill="#9acd32"/>
<rect x="674.4" y="438.0" width="9.6" height="205.0" fill="#9acd32"/>
<rect x="707.8" y="438.0" width="9.6" height="205.0" fill="#9acd32"/>
<rect x="741.2" y="438.0" width="9.6" height="205.0" fill="#9acd32"/>
<rect x="774.6" y="438.0" width="9.6" height="205.0" fill="#9acd32"/>
<rect x="808.0" y="438.0" width="9.6" height="205.0" fill="#9acd32"/>
<rect x="841.4" y="438.0" width="9.6" height="205.0" fill="#9acd32"/>
<rect x="874.8" y="438.0" width="9.6" height="205.0" fill="#9acd32"/>
<rect x="908.2" y="438.0" width="9.6" height="205.0" fill="#9acd32"/>
<rect x="941.6" y="438.0" width="9.6" height="205.0" fill="#9acd32"/>
<rect x="975.0" y="438.0" width="9.6" height="205.0" fill="#9acd32"/>
<rect x="1008.4" y="438.0" width="9.6" height="205.0" fill="#9acd32"/>
<rect x="1041.8" y="438.0" width="9.6" height="205.0" fill="#9acd32"/>
<rect x="1075.2" y="438.0" width="9.6" height="205.0" fill="#9acd32"/>
<rect x="1108.6" y="438.0" width="9.6" height="205.0" fill="#9acd32"/>
<rect x="1142.0" y="438.0" width="9.6" height="205.0" fill="#9acd32"/>
<rect x="1175.4" y="438.0" width="9.6" height="205.0" fill="#9acd32"/>
<rect x="1208.8" y="438.0" width="9.6" height="205.0" fill="#9acd32"/>
<rect x="1242.2" y="438.0" width="9.6" height="205.0" fill="#9acd32"/>
<line x1="64" x2="1261" y1="643.5" y2="643.5" stroke="#c9d3e6" stroke-width="1"/>
<line x1="64" x2="1261" y1="602.5" y2="602.5" stroke="#dcdcdc" stroke-opacity="0.65" stroke-width="1"/>
<line x1="64" x2="1261" y1="561.5" y2="561.5" stroke="#dcdcdc" stroke-opacity="0.65" stroke-width="1"/>
<line x1="64" x2="1261" y1="520.5" y2="520.5" stroke="#dcdcdc" stroke-opacity="0.65" stroke-width="1"/>
<line x1="64" x2="1261" y1="479.5" y2="479.5" stroke="#dcdcdc" stroke-opacity="0.65" stroke-width="1"/>
<text x="56" y="646.2" text-anchor="end" font-size="8.5" fill="#555">0</text>
<text x="56" y="605.2" text-anchor="end" font-size="8.5" fill="#555">2.5k</text>
<text x="56" y="564.2" text-anchor="end" font-size="8.5" fill="#555">5k</text>
<text x="56" y="523.2" text-anchor="end" font-size="8.5" fill="#555">7.5k</text>
<text x="56" y="482.2" text-anchor="end" font-size="8.5" fill="#555">10k</text>
<text x="56" y="439.5" text-anchor="end" font-size="8.5" fill="#555">12.5k</text>
<text x="111.9" y="656.600" text-anchor="middle" font-size="8.3" fill="#666" letter-spacing="0.3">21/02</text>
<text x="178.7" y="656.600" text-anchor="middle" font-size="8.3" fill="#666" letter-spacing="0.3">07/03</text>
<text x="245.5" y="656.600" text-anchor="middle" font-size="8.3" fill="#666" letter-spacing="0.3">21/03</text>
<text x="312.3" y="656.600" text-anchor="middle" font-size="8.3" fill="#666" letter-spacing="0.3">04/04</text>
<text x="379.1" y="656.600" text-anchor="middle" font-size="8.3" fill="#666" letter-spacing="0.3">18/04</text>
<text x="445.9" y="656.600" text-anchor="middle" font-size="8.3" fill="#666" letter-spacing="0.3">02/05</text>
<text x="512.7" y="656.600" text-anchor="middle" font-size="8.3" fill="#666" letter-spacing="0.3">16/05</text>
<text x="579.5" y="656.600" text-anchor="middle" font-size="8.3" fill="#666" letter-spacing="0.3">30/05</text>
<text x="646.3" y="656.600" text-anchor="middle" font-size="8.3" fill="#666" letter-spacing="0.3">13/06</text>
<text x="713.1" y="656.600" text-anchor="middle" font-size="8.3" fill="#666" letter-spacing="0.3">27/06</text>
<text x="779.9" y="656.600" text-anchor="middle" font-size="8.3" fill="#666" letter-spacing="0.3">11/07</text>
<text x="846.7" y="656.600" text-anchor="middle" font-size="8.3" fill="#666" letter-spacing="0.3">25/07</text>
<text x="913.5" y="656.600" text-anchor="middle" font-size="8.3" fill="#666" letter-spacing="0.3">08/08</text>
<text x="980.3" y="656.600" text-anchor="middle" font-size="8.3" fill="#666" letter-spacing="0.3">22/08</text>
<text x="1047.1" y="656.600" text-anchor="middle" font-size="8.3" fill="#666" letter-spacing="0.3">05/09</text>
<text x="1113.9" y="656.600" text-anchor="middle" font-size="8.3" fill="#666" letter-spacing="0.3">19/09</text>
<text x="1180.7" y="656.600" text-anchor="middle" font-size="8.3" fill="#666" letter-spacing="0.3">03/10</text>
<text x="1247.5" y="656.600" text-anchor="middle" font-size="8.3" fill="#666" letter-spacing="0.3">17/10</text>
<polyline fill="none" stroke="#e0707a" stroke-width="1.0" stroke-linejoin="round" points="78.0,643.0 111.4,643.0 144.8,643.0 178.2,642.0 211.6,642.8 245.0,642.8 278.4,643.0 311.8,643.0 345.2,643.0 378.6,643.0 412.0,642.8 445.4,642.5 478.8,643.0 512.2,643.0 545.6,643.0 579.0,642.5 612.4,642.5 645.8,643.0 679.2,643.0 712.6,643.0 746.0,643.0 779.4,643.0 812.8,643.0 846.2,643.0 879.6,642.0 913.0,643.0 946.4,643.0 979.8,643.0 1013.2,643.0 1046.6,643.0 1080.0,643.0 1113.4,642.0 1146.8,642.0 1180.2,643.0 1213.6,643.0 1247.0,642.5"/>
<polyline fill="none" stroke="#c8d44a" stroke-width="1.0" stroke-linejoin="round" points="78.0,643.0 111.4,642.0 144.8,642.8 178.2,642.5 211.6,643.0 245.0,643.0 278.4,643.0 311.8,642.8 345.2,643.0 378.6,643.0 412.0,642.5 445.4,643.0 478.8,643.0 512.2,643.0 545.6,642.5 579.0,642.0 612.4,643.0 645.8,642.5 679.2,643.0 712.6,642.8 746.0,642.8 779.4,642.5 812.8,643.0 846.2,642.8 879.6,642.8 913.0,643.0 946.4,643.0 979.8,643.0 1013.2,643.0 1046.6,643.0 1080.0,643.0 1113.4,643.0 1146.8,642.8 1180.2,642.0 1213.6,643.0 1247.0,642.5"/>
<polyline fill="none" stroke="#8fa84a" stroke-width="1.0" stroke-linejoin="round" points="78.0,642.5 111.4,642.0 144.8,642.8 178.2,642.0 211.6,643.0 245.0,643.0 278.4,642.0 311.8,643.0 345.2,643.0 378.6,642.8 412.0,643.0 445.4,642.0 478.8,642.0 512.2,642.8 545.6,643.0 579.0,643.0 612.4,643.0 645.8,642.8 679.2,642.0 712.6,642.5 746.0,643.0 779.4,642.0 812.8,642.5 846.2,643.0 879.6,643.0 913.0,643.0 946.4,643.0 979.8,642.0 1013.2,643.0 1046.6,643.0 1080.0,642.5 1113.4,642.5 1146.8,643.0 1180.2,643.0 1213.6,643.0 1247.0,643.0"/>
<polyline fill="none" stroke="#8085e9" stroke-width="1.0" stroke-linejoin="round" points="78.0,643.0 111.4,642.8 144.8,643.0 178.2,643.0 211.6,643.0 245.0,642.0 278.4,643.0 311.8,643.0 345.2,642.0 378.6,642.0 412.0,643.0 445.4,643.0 478.8,643.0 512.2,643.0 545.6,643.0 579.0,643.0 612.4,642.0 645.8,642.8 679.2,642.5 712.6,642.0 746.0,643.0 779.4,643.0 812.8,642.5 846.2,643.0 879.6,642.8 913.0,643.0 946.4,643.0 979.8,643.0 1013.2,642.8 1046.6,642.5 1080.0,643.0 1113.4,643.0 1146.8,642.5 1180.2,643.0 1213.6,643.0 1247.0,643.0"/>
<polyline fill="none" stroke="#90ed7d" stroke-width="1.0" stroke-linejoin="round" points="78.0,642.8 111.4,643.0 144.8,643.0 178.2,643.0 211.6,643.0 245.0,642.5 278.4,643.0 311.8,642.8 345.2,643.0 378.6,642.8 412.0,643.0 445.4,643.0 478.8,643.0 512.2,643.0 545.6,643.0 579.0,642.0 612.4,643.0 645.8,642.5 679.2,642.0 712.6,643.0 746.0,642.5 779.4,643.0 812.8,642.5 846.2,642.8 879.6,642.5 913.0,643.0 946.4,643.0 979.8,643.0 1013.2,643.0 1046.6,642.5 1080.0,643.0 1113.4,642.8 1146.8,642.0 1180.2,643.0 1213.6,642.8 1247.0,643.0"/>
<polyline fill="none" stroke="#f2c14a" stroke-width="1.0" stroke-linejoin="round" points="78.0,643.0 111.4,642.8 144.8,642.8 178.2,642.8 211.6,643.0 245.0,643.0 278.4,642.8 311.8,642.8 345.2,643.0 378.6,642.0 412.0,642.8 445.4,643.0 478.8,642.8 512.2,643.0 545.6,643.0 579.0,643.0 612.4,643.0 645.8,643.0 679.2,643.0 712.6,642.5 746.0,643.0 779.4,643.0 812.8,642.8 846.2,643.0 879.6,643.0 913.0,643.0 946.4,643.0 979.8,643.0 1013.2,642.5 1046.6,643.0 1080.0,642.5 1113.4,642.8 1146.8,642.0 1180.2,642.0 1213.6,642.0 1247.0,642.0"/>
<polyline fill="none" stroke="#e4a0a0" stroke-width="1.0" stroke-linejoin="round" points="78.0,643.0 111.4,642.8 144.8,642.8 178.2,643.0 211.6,642.8 245.0,643.0 278.4,642.5 311.8,643.0 345.2,643.0 378.6,643.0 412.0,642.0 445.4,642.8 478.8,642.0 512.2,643.0 545.6,642.8 579.0,642.5 612.4,643.0 645.8,642.0 679.2,642.0 712.6,643.0 746.0,643.0 779.4,642.8 812.8,642.8 846.2,643.0 879.6,643.0 913.0,642.0 946.4,642.0 979.8,643.0 1013.2,643.0 1046.6,642.8 1080.0,642.5 1113.4,643.0 1146.8,643.0 1180.2,642.0 1213.6,643.0 1247.0,643.0"/>
<polyline fill="none" stroke="#d6e04a" stroke-width="1.0" stroke-linejoin="round" points="78.0,642.0 111.4,642.0 144.8,642.8 178.2,642.5 211.6,642.8 245.0,642.0 278.4,642.8 311.8,642.8 345.2,643.0 378.6,643.0 412.0,643.0 445.4,643.0 478.8,643.0 512.2,642.5 545.6,643.0 579.0,643.0 612.4,642.8 645.8,642.8 679.2,643.0 712.6,642.5 746.0,643.0 779.4,643.0 812.8,643.0 846.2,642.0 879.6,642.5 913.0,643.0 946.4,642.5 979.8,642.8 1013.2,642.5 1046.6,642.8 1080.0,643.0 1113.4,643.0 1146.8,643.0 1180.2,642.0 1213.6,642.5 1247.0,643.0"/>
<polyline fill="none" stroke="#d580e9" stroke-width="1.0" stroke-linejoin="round" points="78.0,642.8 111.4,642.5 144.8,643.0 178.2,642.5 211.6,643.0 245.0,643.0 278.4,643.0 311.8,643.0 345.2,642.5 378.6,643.0 412.0,643.0 445.4,643.0 478.8,643.0 512.2,643.0 545.6,642.5 579.0,642.8 612.4,642.8 645.8,643.0 679.2,643.0 712.6,642.8 746.0,643.0 779.4,642.8 812.8,642.8 846.2,643.0 879.6,643.0 913.0,643.0 946.4,642.5 979.8,643.0 1013.2,642.5 1046.6,642.8 1080.0,642.8 1113.4,642.0 1146.8,642.8 1180.2,643.0 1213.6,642.0 1247.0,643.0"/>
<polyline fill="none" stroke="#8fd0cc" stroke-width="1.0" stroke-linejoin="round" points="78.0,642.0 111.4,643.0 144.8,642.8 178.2,642.8 211.6,643.0 245.0,642.5 278.4,643.0 311.8,643.0 345.2,643.0 378.6,643.0 412.0,642.0 445.4,643.0 478.8,643.0 512.2,642.8 545.6,643.0 579.0,643.0 612.4,642.5 645.8,643.0 679.2,642.0 712.6,643.0 746.0,643.0 779.4,642.0 812.8,643.0 846.2,643.0 879.6,642.5 913.0,643.0 946.4,642.8 979.8,642.0 1013.2,642.5 1046.6,642.8 1080.0,642.5 1113.4,643.0 1146.8,642.5 1180.2,643.0 1213.6,642.8 1247.0,643.0"/>
<polyline fill="none" stroke="#a6f0a0" stroke-width="1.0" stroke-linejoin="round" points="78.0,643.0 111.4,643.0 144.8,643.0 178.2,642.0 211.6,643.0 245.0,642.0 278.4,643.0 311.8,642.5 345.2,643.0 378.6,642.5 412.0,642.8 445.4,642.5 478.8,643.0 512.2,642.5 545.6,642.8 579.0,642.5 612.4,642.5 645.8,642.8 679.2,642.8 712.6,643.0 746.0,643.0 779.4,642.5 812.8,643.0 846.2,642.0 879.6,643.0 913.0,643.0 946.4,642.8 979.8,643.0 1013.2,642.5 1046.6,643.0 1080.0,642.0 1113.4,642.5 1146.8,643.0 1180.2,643.0 1213.6,643.0 1247.0,643.0"/>
<polyline fill="none" stroke="#f070b0" stroke-width="1.0" stroke-linejoin="round" points="78.0,642.5 111.4,643.0 144.8,642.0 178.2,642.5 211.6,643.0 245.0,643.0 278.4,642.8 311.8,642.0 345.2,643.0 378.6,643.0 412.0,642.0 445.4,643.0 478.8,643.0 512.2,643.0 545.6,643.0 579.0,643.0 612.4,642.5 645.8,643.0 679.2,642.5 712.6,643.0 746.0,643.0 779.4,643.0 812.8,643.0 846.2,643.0 879.6,642.5 913.0,642.8 946.4,642.0 979.8,642.5 1013.2,643.0 1046.6,643.0 1080.0,643.0 1113.4,642.0 1146.8,642.8 1180.2,642.0 1213.6,642.0 1247.0,643.0"/>
<polyline fill="none" stroke="#2fa8b5" stroke-width="1.0" stroke-linejoin="round" points="78.0,642.5 111.4,642.0 144.8,643.0 178.2,642.0 211.6,642.8 245.0,642.5 278.4,643.0 311.8,642.8 345.2,642.0 378.6,643.0 412.0,643.0 445.4,643.0 478.8,643.0 512.2,642.0 545.6,643.0 579.0,642.5 612.4,642.0 645.8,642.5 679.2,642.8 712.6,642.8 746.0,642.5 779.4,642.8 812.8,643.0 846.2,643.0 879.6,642.8 913.0,642.8 946.4,642.5 979.8,643.0 1013.2,643.0 1046.6,643.0 1080.0,642.5 1113.4,642.8 1146.8,642.0 1180.2,642.5 1213.6,642.5 1247.0,643.0"/>
<polyline fill="none" stroke="#b0a04a" stroke-width="1.0" stroke-linejoin="round" points="78.0,642.8 111.4,642.8 144.8,642.5 178.2,643.0 211.6,643.0 245.0,642.5 278.4,643.0 311.8,642.8 345.2,642.0 378.6,643.0 412.0,642.5 445.4,643.0 478.8,643.0 512.2,643.0 545.6,642.8 579.0,643.0 612.4,642.0 645.8,642.8 679.2,642.5 712.6,643.0 746.0,643.0 779.4,643.0 812.8,643.0 846.2,643.0 879.6,643.0 913.0,643.0 946.4,643.0 979.8,642.8 1013.2,642.5 1046.6,642.0 1080.0,642.5 1113.4,642.5 1146.8,642.0 1180.2,642.5 1213.6,643.0 1247.0,643.0"/>
<polyline fill="none" stroke="#7cb5ec" stroke-width="1.3" stroke-linejoin="round" points="78.0,643.0 111.4,642.0 144.8,638.1 178.2,635.6 211.6,636.8 245.0,637.6 278.4,638.1 311.8,637.6 345.2,638.1 378.6,637.6 412.0,637.6 445.4,637.6 478.8,637.6 512.2,639.7 545.6,642.5 579.0,643.0"/>
<polyline fill="none" stroke="#f7a35c" stroke-width="1.5" stroke-linejoin="round" points="78.0,643.0 111.4,639.7 144.8,637.6 178.2,638.1 211.6,638.9 245.0,638.1 278.4,638.4 311.8,639.7 345.2,640.0 378.6,640.5 412.0,641.0 445.4,641.4 478.8,641.7 512.2,642.0 545.6,642.3 579.0,642.7 612.4,642.5 645.8,642.0 679.2,637.6 712.6,639.7 746.0,638.1 779.4,641.0 812.8,641.5 846.2,640.7 879.6,641.4 913.0,641.2 946.4,641.4 979.8,641.5 1013.2,641.4 1046.6,641.7 1080.0,638.6 1113.4,641.5 1146.8,641.4 1180.2,633.5 1213.6,636.4 1247.0,642.0"/>
<polyline fill="none" stroke="#12376f" stroke-width="1.4" stroke-linejoin="round" points="78.0,643.0 111.4,573.3 144.8,538.0 178.2,585.6 211.6,636.1 245.0,637.6 272.6,638.1 278.8,643.0 311.8,636.8 345.2,637.6 378.6,637.8 412.0,634.5 445.4,628.6 478.8,617.4 512.2,631.7 545.6,629.1 579.0,550.0 612.4,467.0 645.8,540.0 679.2,631.0 712.6,631.2 746.0,630.9 779.4,630.5 812.8,631.0 846.2,630.5 879.6,630.9 913.0,630.5 946.4,628.6 979.8,621.7 1013.2,621.0 1046.6,623.6 1080.0,620.7 1113.4,625.6 1146.8,627.9 1180.2,634.0 1213.6,635.8 1247.0,642.0"/>
<circle cx="78.0" cy="642.7" r="2.0" fill="#fff" stroke="#a6f0a0" stroke-width="1.1"/>
<circle cx="111.4" cy="642.7" r="2.0" fill="#fff" stroke="#2fa8b5" stroke-width="1.1"/>
<circle cx="144.8" cy="642.7" r="2.0" fill="#fff" stroke="#8085e9" stroke-width="1.1"/>
<circle cx="178.2" cy="642.7" r="2.0" fill="#fff" stroke="#e0707a" stroke-width="1.1"/>
<circle cx="211.6" cy="642.7" r="2.0" fill="#fff" stroke="#90ed7d" stroke-width="1.1"/>
<circle cx="245.0" cy="642.7" r="2.0" fill="#fff" stroke="#90ed7d" stroke-width="1.1"/>
<circle cx="278.4" cy="642.7" r="2.0" fill="#fff" stroke="#f7a35c" stroke-width="1.1"/>
<circle cx="311.8" cy="642.7" r="2.0" fill="#fff" stroke="#8085e9" stroke-width="1.1"/>
<circle cx="345.2" cy="642.7" r="2.0" fill="#fff" stroke="#f070b0" stroke-width="1.1"/>
<circle cx="378.6" cy="642.7" r="2.0" fill="#fff" stroke="#a6f0a0" stroke-width="1.1"/>
<circle cx="412.0" cy="642.7" r="2.0" fill="#fff" stroke="#2fa8b5" stroke-width="1.1"/>
<circle cx="445.4" cy="642.7" r="2.0" fill="#fff" stroke="#fff7c0" stroke-width="1.1"/>
<circle cx="478.8" cy="642.7" r="2.0" fill="#fff" stroke="#8085e9" stroke-width="1.1"/>
<circle cx="512.2" cy="642.7" r="2.0" fill="#fff" stroke="#f070b0" stroke-width="1.1"/>
<circle cx="545.6" cy="642.7" r="2.0" fill="#fff" stroke="#2fa8b5" stroke-width="1.1"/>
<circle cx="579.0" cy="642.7" r="2.0" fill="#fff" stroke="#f7a35c" stroke-width="1.1"/>
<circle cx="612.4" cy="642.7" r="2.0" fill="#fff" stroke="#d8f0f8" stroke-width="1.1"/>
<circle cx="645.8" cy="642.7" r="2.0" fill="#fff" stroke="#90ed7d" stroke-width="1.1"/>
<circle cx="679.2" cy="642.7" r="2.0" fill="#fff" stroke="#a6f0a0" stroke-width="1.1"/>
<circle cx="712.6" cy="642.7" r="2.0" fill="#fff" stroke="#d8f0f8" stroke-width="1.1"/>
<circle cx="746.0" cy="642.7" r="2.0" fill="#fff" stroke="#90ed7d" stroke-width="1.1"/>
<circle cx="779.4" cy="642.7" r="2.0" fill="#fff" stroke="#90ed7d" stroke-width="1.1"/>
<circle cx="812.8" cy="642.7" r="2.0" fill="#fff" stroke="#7cb5ec" stroke-width="1.1"/>
<circle cx="846.2" cy="642.7" r="2.0" fill="#fff" stroke="#f7a35c" stroke-width="1.1"/>
<circle cx="879.6" cy="642.7" r="2.0" fill="#fff" stroke="#fff7c0" stroke-width="1.1"/>
<circle cx="913.0" cy="642.7" r="2.0" fill="#fff" stroke="#90ed7d" stroke-width="1.1"/>
<circle cx="946.4" cy="642.7" r="2.0" fill="#fff" stroke="#f070b0" stroke-width="1.1"/>
<circle cx="979.8" cy="642.7" r="2.0" fill="#fff" stroke="#2fa8b5" stroke-width="1.1"/>
<circle cx="1013.2" cy="642.7" r="2.0" fill="#fff" stroke="#f070b0" stroke-width="1.1"/>
<circle cx="1046.6" cy="642.7" r="2.0" fill="#fff" stroke="#d8f0f8" stroke-width="1.1"/>
<circle cx="1080.0" cy="642.7" r="2.0" fill="#fff" stroke="#f070b0" stroke-width="1.1"/>
<circle cx="1113.4" cy="642.7" r="2.0" fill="#fff" stroke="#e0707a" stroke-width="1.1"/>
<circle cx="1146.8" cy="642.7" r="2.0" fill="#fff" stroke="#d8f0f8" stroke-width="1.1"/>
<circle cx="1180.2" cy="642.7" r="2.0" fill="#fff" stroke="#d8f0f8" stroke-width="1.1"/>
<circle cx="1213.6" cy="642.7" r="2.0" fill="#fff" stroke="#d8f0f8" stroke-width="1.1"/>
<circle cx="1247.0" cy="642.7" r="2.0" fill="#fff" stroke="#d8f0f8" stroke-width="1.1"/>
<circle cx="78.0" cy="643.0" r="1.9" fill="#fff" stroke="#7cb5ec" stroke-width="1.1"/>
<circle cx="111.4" cy="642.0" r="1.9" fill="#fff" stroke="#7cb5ec" stroke-width="1.1"/>
<circle cx="144.8" cy="638.1" r="1.9" fill="#fff" stroke="#7cb5ec" stroke-width="1.1"/>
<circle cx="178.2" cy="635.6" r="1.9" fill="#fff" stroke="#7cb5ec" stroke-width="1.1"/>
<circle cx="211.6" cy="636.8" r="1.9" fill="#fff" stroke="#7cb5ec" stroke-width="1.1"/>
<circle cx="245.0" cy="637.6" r="1.9" fill="#fff" stroke="#7cb5ec" stroke-width="1.1"/>
<circle cx="278.4" cy="638.1" r="1.9" fill="#fff" stroke="#7cb5ec" stroke-width="1.1"/>
<circle cx="311.8" cy="637.6" r="1.9" fill="#fff" stroke="#7cb5ec" stroke-width="1.1"/>
<circle cx="345.2" cy="638.1" r="1.9" fill="#fff" stroke="#7cb5ec" stroke-width="1.1"/>
<circle cx="378.6" cy="637.6" r="1.9" fill="#fff" stroke="#7cb5ec" stroke-width="1.1"/>
<circle cx="412.0" cy="637.6" r="1.9" fill="#fff" stroke="#7cb5ec" stroke-width="1.1"/>
<circle cx="445.4" cy="637.6" r="1.9" fill="#fff" stroke="#7cb5ec" stroke-width="1.1"/>
<circle cx="478.8" cy="637.6" r="1.9" fill="#fff" stroke="#7cb5ec" stroke-width="1.1"/>
<circle cx="512.2" cy="639.7" r="1.9" fill="#fff" stroke="#7cb5ec" stroke-width="1.1"/>
<circle cx="78.0" cy="643.0" r="1.9" fill="#fff" stroke="#f7a35c" stroke-width="1.1"/>
<circle cx="144.8" cy="637.6" r="1.9" fill="#fff" stroke="#f7a35c" stroke-width="1.1"/>
<circle cx="245.0" cy="638.1" r="1.9" fill="#fff" stroke="#f7a35c" stroke-width="1.1"/>
<circle cx="679.2" cy="637.6" r="1.9" fill="#fff" stroke="#f7a35c" stroke-width="1.1"/>
<circle cx="746.0" cy="638.1" r="1.9" fill="#fff" stroke="#f7a35c" stroke-width="1.1"/>
<circle cx="1080.0" cy="638.6" r="1.9" fill="#fff" stroke="#f7a35c" stroke-width="1.1"/>
<circle cx="1180.2" cy="633.5" r="1.9" fill="#fff" stroke="#f7a35c" stroke-width="1.1"/>
<circle cx="1213.6" cy="636.4" r="1.9" fill="#fff" stroke="#f7a35c" stroke-width="1.1"/>
<circle cx="78.0" cy="643.0" r="2.1" fill="#fff" stroke="#1f4f8f" stroke-width="1.1"/>
<circle cx="111.4" cy="573.3" r="2.1" fill="#fff" stroke="#1f4f8f" stroke-width="1.1"/>
<circle cx="144.8" cy="538.0" r="2.1" fill="#fff" stroke="#1f4f8f" stroke-width="1.1"/>
<circle cx="178.2" cy="585.6" r="2.1" fill="#fff" stroke="#1f4f8f" stroke-width="1.1"/>
<circle cx="211.6" cy="636.1" r="2.1" fill="#fff" stroke="#1f4f8f" stroke-width="1.1"/>
<circle cx="245.0" cy="637.6" r="2.1" fill="#fff" stroke="#1f4f8f" stroke-width="1.1"/>
<circle cx="272.6" cy="638.1" r="2.1" fill="#fff" stroke="#1f4f8f" stroke-width="1.1"/>
<circle cx="278.8" cy="643.0" r="2.1" fill="#fff" stroke="#1f4f8f" stroke-width="1.1"/>
<circle cx="311.8" cy="636.8" r="2.1" fill="#fff" stroke="#1f4f8f" stroke-width="1.1"/>
<circle cx="345.2" cy="637.6" r="2.1" fill="#fff" stroke="#1f4f8f" stroke-width="1.1"/>
<circle cx="378.6" cy="637.8" r="2.1" fill="#fff" stroke="#1f4f8f" stroke-width="1.1"/>
<circle cx="412.0" cy="634.5" r="2.1" fill="#fff" stroke="#1f4f8f" stroke-width="1.1"/>
<circle cx="445.4" cy="628.6" r="2.1" fill="#fff" stroke="#1f4f8f" stroke-width="1.1"/>
<circle cx="478.8" cy="617.4" r="2.1" fill="#fff" stroke="#1f4f8f" stroke-width="1.1"/>
<circle cx="512.2" cy="631.7" r="2.1" fill="#fff" stroke="#1f4f8f" stroke-width="1.1"/>
<circle cx="545.6" cy="629.1" r="2.1" fill="#fff" stroke="#1f4f8f" stroke-width="1.1"/>
<circle cx="579.0" cy="550.0" r="2.1" fill="#fff" stroke="#1f4f8f" stroke-width="1.1"/>
<circle cx="612.4" cy="467.0" r="2.1" fill="#fff" stroke="#1f4f8f" stroke-width="1.1"/>
<circle cx="645.8" cy="540.0" r="2.1" fill="#fff" stroke="#1f4f8f" stroke-width="1.1"/>
<circle cx="679.2" cy="631.0" r="2.1" fill="#fff" stroke="#1f4f8f" stroke-width="1.1"/>
<circle cx="712.6" cy="631.2" r="2.1" fill="#fff" stroke="#1f4f8f" stroke-width="1.1"/>
<circle cx="746.0" cy="630.9" r="2.1" fill="#fff" stroke="#1f4f8f" stroke-width="1.1"/>
<circle cx="779.4" cy="630.5" r="2.1" fill="#fff" stroke="#1f4f8f" stroke-width="1.1"/>
<circle cx="812.8" cy="631.0" r="2.1" fill="#fff" stroke="#1f4f8f" stroke-width="1.1"/>
<circle cx="846.2" cy="630.5" r="2.1" fill="#fff" stroke="#1f4f8f" stroke-width="1.1"/>
<circle cx="879.6" cy="630.9" r="2.1" fill="#fff" stroke="#1f4f8f" stroke-width="1.1"/>
<circle cx="913.0" cy="630.5" r="2.1" fill="#fff" stroke="#1f4f8f" stroke-width="1.1"/>
<circle cx="946.4" cy="628.6" r="2.1" fill="#fff" stroke="#1f4f8f" stroke-width="1.1"/>
<circle cx="979.8" cy="621.7" r="2.1" fill="#fff" stroke="#1f4f8f" stroke-width="1.1"/>
<circle cx="1013.2" cy="621.0" r="2.1" fill="#fff" stroke="#1f4f8f" stroke-width="1.1"/>
<circle cx="1046.6" cy="623.6" r="2.1" fill="#fff" stroke="#1f4f8f" stroke-width="1.1"/>
<circle cx="1080.0" cy="620.7" r="2.1" fill="#fff" stroke="#1f4f8f" stroke-width="1.1"/>
<circle cx="1113.4" cy="625.6" r="2.1" fill="#fff" stroke="#1f4f8f" stroke-width="1.1"/>
<circle cx="1146.8" cy="627.9" r="2.1" fill="#fff" stroke="#1f4f8f" stroke-width="1.1"/>
<circle cx="1180.2" cy="634.0" r="2.1" fill="#fff" stroke="#1f4f8f" stroke-width="1.1"/>
<circle cx="1213.6" cy="635.8" r="2.1" fill="#fff" stroke="#1f4f8f" stroke-width="1.1"/>
<circle cx="1247.0" cy="642.0" r="2.1" fill="#fff" stroke="#1f4f8f" stroke-width="1.1"/>
<circle cx="59.6" cy="679.2" r="2.2" fill="#7cb5ec" stroke="#7cb5ec" stroke-width="1.2"/>
<text x="67.4" y="682.1" font-size="7.65" font-weight="bold" fill="#262626" class="dv">System Level</text>
<circle cx="144.9" cy="679.2" r="2.2" fill="#fff" stroke="#e0707a" stroke-width="1.2"/>
<text x="152.7" y="682.1" font-size="7.65" font-weight="bold" fill="#262626" class="dv">VS-Corp</text>
<circle cx="230.2" cy="679.2" r="2.2" fill="#fff" stroke="#c8d44a" stroke-width="1.2"/>
<text x="238.0" y="682.1" font-size="7.65" font-weight="bold" fill="#262626" class="dv">Gen-Corp</text>
<circle cx="315.5" cy="679.2" r="2.2" fill="#f7a35c" stroke="#f7a35c" stroke-width="1.2"/>
<text x="323.3" y="682.1" font-size="7.65" font-weight="bold" fill="#262626" class="dv">VOSS</text>
<circle cx="400.8" cy="679.2" r="2.2" fill="#fff" stroke="#8fa84a" stroke-width="1.2"/>
<text x="408.6" y="682.1" font-size="7.65" font-weight="bold" fill="#262626" class="dv">AAAGlobal</text>
<circle cx="486.1" cy="679.2" r="2.2" fill="#fff" stroke="#7cb5ec" stroke-width="1.2"/>
<text x="493.9" y="682.1" font-size="7.65" font-weight="bold" fill="#262626" class="dv">Paxus</text>
<circle cx="571.4" cy="679.2" r="2.2" fill="#8085e9" stroke="#8085e9" stroke-width="1.2"/>
<text x="579.2" y="682.1" font-size="7.65" font-weight="bold" fill="#262626" class="dv">AB_Group</text>
<circle cx="656.7" cy="679.2" r="2.2" fill="#fff" stroke="#90ed7d" stroke-width="1.2"/>
<text x="664.5" y="682.1" font-size="7.65" font-weight="bold" fill="#262626" class="dv">InGen</text>
<circle cx="742.0" cy="679.2" r="2.2" fill="#fff" stroke="#f2c14a" stroke-width="1.2"/>
<text x="749.8" y="682.1" font-size="7.65" font-weight="bold" fill="#262626" class="dv">TeleCare</text>
<circle cx="827.3" cy="679.2" r="2.2" fill="#e4a0a0" stroke="#e4a0a0" stroke-width="1.2"/>
<text x="835.1" y="682.1" font-size="7.65" font-weight="bold" fill="#262626" class="dv">Glendax</text>
<circle cx="912.6" cy="679.2" r="2.2" fill="#fff" stroke="#8ab4f0" stroke-width="1.2"/>
<text x="920.4" y="682.1" font-size="7.65" font-weight="bold" fill="#262626" class="dv">AngloTest</text>
<circle cx="997.9" cy="679.2" r="2.2" fill="#fff" stroke="#d8f5e4" stroke-width="1.2"/>
<text x="1005.7" y="682.1" font-size="7.65" font-weight="bold" fill="#262626" class="dv">BCC</text>
<circle cx="1083.2" cy="679.2" r="2.2" fill="#d6e04a" stroke="#d6e04a" stroke-width="1.2"/>
<text x="1091.0" y="682.1" font-size="7.65" font-weight="bold" fill="#262626" class="dv">PSN-CC</text>
<circle cx="1168.5" cy="679.2" r="2.2" fill="#fff" stroke="#f7cf9a" stroke-width="1.2"/>
<text x="1176.3" y="682.1" font-size="7.65" font-weight="bold" fill="#262626" class="dv">GeoLogic</text>
<circle cx="59.6" cy="693.0" r="2.2" fill="#fff" stroke="#fbe0e0" stroke-width="1.2"/>
<text x="67.4" y="695.9" font-size="7.65" font-weight="bold" fill="#262626" class="dv">BODYSHOX</text>
<circle cx="144.9" cy="693.0" r="2.2" fill="#fff" stroke="#d580e9" stroke-width="1.2"/>
<text x="152.7" y="695.9" font-size="7.65" font-weight="bold" fill="#262626" class="dv">PANDABANK</text>
<circle cx="230.2" cy="693.0" r="2.2" fill="#fff" stroke="#b5b5b5" stroke-width="1.2"/>
<text x="238.0" y="695.9" font-size="7.65" font-weight="bold" fill="#262626" class="dv">CYCLETRONIC</text>
<circle cx="315.5" cy="693.0" r="2.2" fill="#fff" stroke="#8fd0cc" stroke-width="1.2"/>
<text x="323.3" y="695.9" font-size="7.65" font-weight="bold" fill="#262626" class="dv">ELITETECHS</text>
<circle cx="400.8" cy="693.0" r="2.2" fill="#fff" stroke="#fbf0d8" stroke-width="1.2"/>
<text x="408.6" y="695.9" font-size="7.65" font-weight="bold" fill="#262626" class="dv">SCHOLES</text>
<circle cx="486.1" cy="693.0" r="2.2" fill="#fff" stroke="#f9b0bc" stroke-width="1.2"/>
<text x="493.9" y="695.9" font-size="7.65" font-weight="bold" fill="#262626" class="dv">NEXTWAVE</text>
<circle cx="571.4" cy="693.0" r="2.2" fill="#fff" stroke="#d8f0f8" stroke-width="1.2"/>
<text x="579.2" y="695.9" font-size="7.65" font-weight="bold" fill="#262626" class="dv">WIGGO</text>
<circle cx="656.7" cy="693.0" r="2.2" fill="#fff" stroke="#a6f0a0" stroke-width="1.2"/>
<text x="664.5" y="695.9" font-size="7.65" font-weight="bold" fill="#262626" class="dv">Dynamo</text>
<circle cx="742.0" cy="693.0" r="2.2" fill="#fff" stroke="#fbf7d0" stroke-width="1.2"/>
<text x="749.8" y="695.9" font-size="7.65" font-weight="bold" fill="#262626" class="dv">TEST-ALPHA</text>
<circle cx="827.3" cy="693.0" r="2.2" fill="#fff" stroke="#d8a860" stroke-width="1.2"/>
<text x="835.1" y="695.9" font-size="7.65" font-weight="bold" fill="#262626" class="dv">Azanco</text>
<circle cx="912.6" cy="693.0" r="2.2" fill="#fff" stroke="#d83a3a" stroke-width="1.2"/>
<text x="920.4" y="695.9" font-size="7.65" font-weight="bold" fill="#262626" class="dv">AcmeCorpInc</text>
<circle cx="997.9" cy="693.0" r="2.2" fill="#fff" stroke="#f0c8f0" stroke-width="1.2"/>
<text x="1005.7" y="695.9" font-size="7.65" font-weight="bold" fill="#262626" class="dv">Helse-SorOst</text>
<circle cx="1083.2" cy="693.0" r="2.2" fill="#fff" stroke="#e8e8e8" stroke-width="1.2"/>
<text x="1091.0" y="695.9" font-size="7.65" font-weight="bold" fill="#262626" class="dv">Innovia</text>
<circle cx="1168.5" cy="693.0" r="2.2" fill="#fff" stroke="#2fa8b5" stroke-width="1.2"/>
<text x="1176.3" y="695.9" font-size="7.65" font-weight="bold" fill="#262626" class="dv">NetSystems</text>
<circle cx="59.6" cy="706.8" r="2.2" fill="#fff" stroke="#b0a04a" stroke-width="1.2"/>
<text x="67.4" y="709.7" font-size="7.65" font-weight="bold" fill="#262626" class="dv">ABERDEEN</text>
<circle cx="144.9" cy="706.8" r="2.2" fill="#fff" stroke="#f070b0" stroke-width="1.2"/>
<text x="152.7" y="709.7" font-size="7.65" font-weight="bold" fill="#262626" class="dv">BRIGHOUSE</text>
<circle cx="230.2" cy="706.8" r="2.2" fill="#fff" stroke="#1f4f8f" stroke-width="1.2"/>
<text x="238.0" y="709.7" font-size="7.65" font-weight="bold" fill="#262626" class="dv">Nine9Nine9</text>
</svg>
<style>
.tp{position:absolute;left:1284.500px;top:38px;width:260px;height:684px;background:#f5f5f5;border-radius:4px;box-shadow:inset 0 0 0 2px #fafafa,0 0 1.5px rgba(0,0,0,.07)}
.tb{position:absolute;left:1288px;top:84.300px;width:230.5px;overflow:hidden;height:600px;font-family:"DejaVu Sans","Liberation Sans",sans-serif}
.th{position:absolute;left:0;top:0;width:240px;height:20.8px;background:linear-gradient(#f8f8f8,#e2e2e2);border-top:1px solid #d8d8d8;border-bottom:1px solid #d0d0d0}
.th span{position:absolute;top:4.500px;font-size:7.9px;line-height:10px;color:#222;letter-spacing:-0.1px;-webkit-text-stroke:0.2px #222}
.r{position:absolute;left:0;width:240px;height:17.5px;background:#fff;border-bottom:1px solid #f0f0f0}
.r i{position:absolute;left:0;top:0;width:25.5px;height:17.4px;background:#f3f3f3;border-right:1px solid #e2e2e2;font-style:normal;font-size:7.7px;line-height:17px;text-align:right;padding-right:4px;color:#555}
.r a{position:absolute;left:30px;top:0;font-size:8.8px;line-height:17px;color:#2a7fc4;text-decoration:underline;white-space:nowrap;letter-spacing:-0.1px}
.r b{position:absolute;left:128px;top:0;width:101.3px;font-weight:normal;font-size:8.3px;line-height:17px;color:#5a5a5a;text-align:right;white-space:nowrap}
.r u{position:absolute;left:128.5px;top:0;width:1px;height:17.4px;background:#ececec}
</style>
<div class="tp"></div>
<div class="hd" style="left:1288px;top:43.800px;width:230.5px;height:18.6px;padding-left:15.500px;font-size:11px;letter-spacing:-0.3px">Counts by Customer</div>
<svg style="left:1292px;top:47px" width="6" height="12" viewBox="0 0 6 12"><path d="M1.3 1h3.4l-.5 3.3 1.3 1.600H3.400V10L3 11l-.4-1V5.900H.5l1.300-1.600z" fill="#2f6fb5"/></svg>
<div style="position:absolute;left:1509.500px;top:45.500px;color:#2f7fd0;font:italic bold 13.5px 'Liberation Serif',serif;line-height:14px;-webkit-text-stroke:0.6px #2f7fd0">i</div>
<div style="position:absolute;left:1288px;top:62.400px;width:230.5px;height:22px;background:#eeeeee"></div>
<svg style="left:1294px;top:67px" width="10" height="11" viewBox="0 0 10 11"><circle cx="4" cy="4.3" r="2.7" fill="none" stroke="#2a7fc4" stroke-width="1.3"/><path d="M6 6.500l2.700 3" stroke="#2a7fc4" stroke-width="1.6" stroke-linecap="round"/></svg>
<div style="position:absolute;left:1307.500px;top:68px;font-size:9px;line-height:11px;color:#4a90d0;letter-spacing:-0.2px">Search</div>
<svg style="left:1336px;top:72px" width="7" height="5" viewBox="0 0 7 5"><path d="M0.800 0.800h5l-2.500 2.800z" fill="#2a7fc4"/></svg>
<svg style="left:1508.400px;top:67.200px" width="10" height="10" viewBox="0 0 10 10"><circle cx="5" cy="5" r="4.300" fill="#3d8fe0"/><path d="M3.400 5.200l1.200 1.200 2.200-2.600" stroke="#fff" stroke-width="0.900" fill="none"/></svg>
<div class="tb">
<div class="th"><span style="left:30px">Customer</span><span style="left:132.5px">Count</span><div style="position:absolute;left:25px;top:0;width:1px;height:19px;background:#d4d4d4"></div><div style="position:absolute;left:128.5px;top:0;width:1px;height:19px;background:#c8c8c8;border-left:0"></div></div>
<div class="r" style="top:20.80px"><i>1</i><a>System Level</a><u></u><b>58,860</b></div>
<div class="r" style="top:38.30px"><i>2</i><a>AAAGlobal</a><u></u><b>214</b></div>
<div class="r" style="top:55.80px"><i>3</i><a>AB_Group</a><u></u><b>551</b></div>
<div class="r" style="top:73.30px"><i>4</i><a>ABERDEEN</a><u></u><b>2</b></div>
<div class="r" style="top:90.80px"><i>5</i><a>AcmeCorpInc</a><u></u><b>6</b></div>
<div class="r" style="top:108.30px"><i>6</i><a>AngloTest</a><u></u><b>7</b></div>
<div class="r" style="top:125.80px"><i>7</i><a>Azanco</a><u></u><b>23</b></div>
<div class="r" style="top:143.30px"><i>8</i><a>BCC</a><u></u><b>3</b></div>
<div class="r" style="top:160.80px"><i>9</i><a>BODYSHOX</a><u></u><b>348</b></div>
<div class="r" style="top:178.30px"><i>10</i><a>BRIGHOUSE</a><u></u><b>6</b></div>
<div class="r" style="top:195.80px"><i>11</i><a>CYCLETRONIC</a><u></u><b>1,416</b></div>
<div class="r" style="top:213.30px"><i>12</i><a>Dynamo</a><u></u><b>28</b></div>
<div class="r" style="top:230.80px"><i>13</i><a>ELITETECHS</a><u></u><b>870</b></div>
<div class="r" style="top:248.30px"><i>14</i><a>Gen-Corp</a><u></u><b>1,389</b></div>
<div class="r" style="top:265.80px"><i>15</i><a>GeoLogic</a><u></u><b>38</b></div>
<div class="r" style="top:283.30px"><i>16</i><a>Glendax</a><u></u><b>5</b></div>
<div class="r" style="top:300.80px"><i>17</i><a>Helse-SorOst</a><u></u><b>10</b></div>
<div class="r" style="top:318.30px"><i>18</i><a>InGen</a><u></u><b>394</b></div>
<div class="r" style="top:335.80px"><i>19</i><a>Innovia</a><u></u><b>29</b></div>
<div class="r" style="top:353.30px"><i>20</i><a>NetSystems</a><u></u><b>29</b></div>
<div class="r" style="top:370.80px"><i>21</i><a>NEXTWAVE</a><u></u><b>1,137</b></div>
<div class="r" style="top:388.30px"><i>22</i><a>Nine9Nine9</a><u></u><b>1</b></div>
<div class="r" style="top:405.80px"><i>23</i><a>PANDABANK</a><u></u><b>1,653</b></div>
<div class="r" style="top:423.30px"><i>24</i><a>Paxus</a><u></u><b>1,272</b></div>
<div class="r" style="top:440.80px"><i>25</i><a>PSN-CC</a><u></u><b>55</b></div>
<div class="r" style="top:458.30px"><i>26</i><a>SCHOLES</a><u></u><b>3</b></div>
<div class="r" style="top:475.80px"><i>27</i><a>TeleCare</a><u></u><b>38</b></div>
<div class="r" style="top:493.30px"><i>28</i><a>TEST-ALPHA</a><u></u><b>31</b></div>
<div class="r" style="top:510.80px"><i>29</i><a>VOSS</a><u></u><b>7,746</b></div>
<div class="r" style="top:528.30px"><i>30</i><a>VS-Corp</a><u></u><b>1,255</b></div>
<div class="r" style="top:545.80px"><i>31</i><a>WIGGO</a><u></u><b>1,351</b></div>
<div class="r" style="top:563.30px"><i></i><u></u></div>
<div class="r" style="top:580.80px"><i></i><u></u></div>
</div>
<div style="position:absolute;left:1288px;top:682px;width:230.5px;height:14px;background:#fafafa;border-top:1px solid #ddd"></div>
<div style="position:absolute;left:1288px;top:682px;width:26px;height:14px;background:#f3f3f3"></div>
<div style="position:absolute;left:1329px;top:685px;width:175px;height:10.500px;background:#c1c1c1"></div>
<svg style="left:1318px;top:686px" width="6" height="8" viewBox="0 0 6 8"><path d="M4.500 1v6l-3-3z" fill="#a8a8a8"/></svg>
<svg style="left:1508px;top:686px" width="6" height="8" viewBox="0 0 6 8"><path d="M1.500 1v6l3-3z" fill="#505050"/></svg>
<div style="position:absolute;left:1288px;top:697px;width:230.5px;height:25px;background:#f5f5f5;border-top:1px solid #ddd"></div>
<div style="position:absolute;left:1295px;top:701.500px;font-size:9.3px;line-height:11px;color:#555;white-space:nowrap;letter-spacing:-0.15px">Displaying 1 - 31 of 31</div>
<div style="position:absolute;left:1392.500px;top:701.500px;font-size:9.3px;line-height:11px;color:#3a87c8;white-space:nowrap;letter-spacing:0.3px;word-spacing:2.500px">&laquo;first prev next last&raquo;</div>
<svg style="left:1509px;top:698px" width="8" height="20" viewBox="0 0 8 20"><path d="M1 6.500l3-3.500 3 3.500z" fill="#999"/><path d="M0.500 9h7" stroke="#aaa" stroke-width="1"/><path d="M1 12.500l3 3.500 3-3.500z" fill="#666"/></svg>
<div style="position:absolute;left:1293px;top:716.500px;width:42px;height:1px;background:#c8c8c8"></div>
</div>
</body></html>
